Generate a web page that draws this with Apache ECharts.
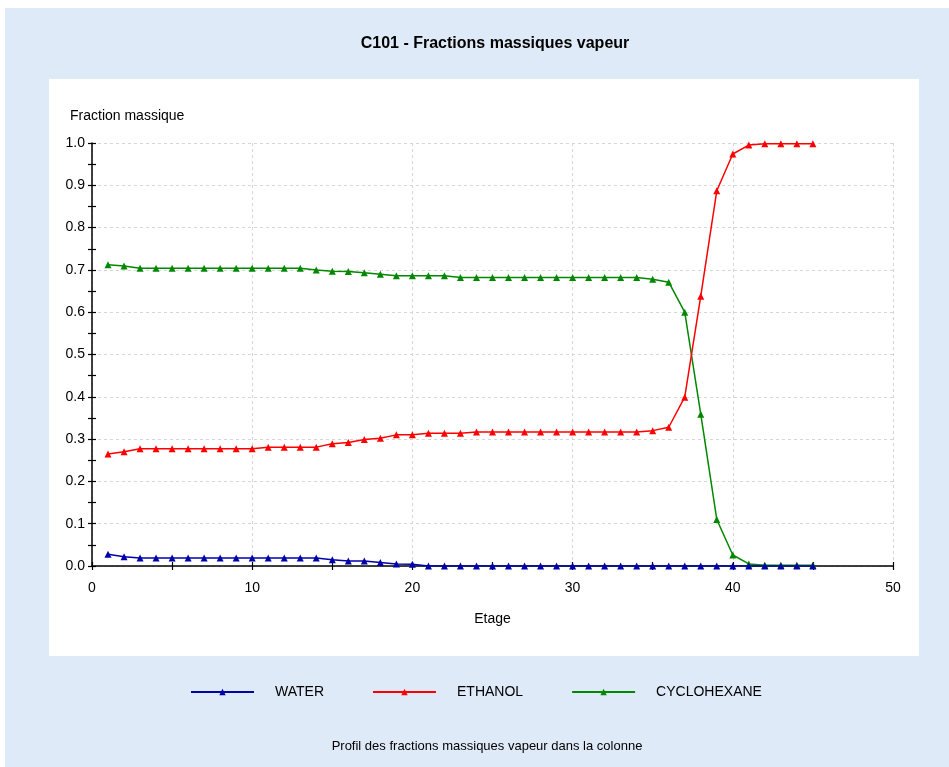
<!DOCTYPE html>
<html>
<head>
<meta charset="utf-8">
<script src="https://cdn.jsdelivr.net/npm/echarts@6/dist/echarts.min.js"></script>
<style>html,body{margin:0;padding:0;background:#fff;}#c{width:949px;height:767px;}</style>
</head>
<body>
<div id="c"></div>
<script>
const stages = [1,2,3,4,5,6,7,8,9,10,11,12,13,14,15,16,17,18,19,20,21,22,23,24,25,26,27,28,29,30,31,32,33,34,35,36,37,38,39,40,41,42,43,44,45];
const water = [0.028,0.022,0.019,0.019,0.019,0.019,0.019,0.019,0.019,0.019,0.019,0.019,0.019,0.019,0.015,0.012,0.012,0.008,0.005,0.004,
  0,0,0,0,0,0,0,0,0,0,0,0,0,0,0,0,0,0,0,0,0,0,0,0,0];
const ethanol = [0.265,0.270,0.277,0.277,0.277,0.277,0.277,0.277,0.277,0.277,0.281,0.281,0.281,0.281,0.289,0.292,0.299,0.302,0.310,0.310,
  0.314,0.314,0.314,0.317,0.317,0.317,0.317,0.317,0.317,0.317,0.317,0.317,0.317,0.317,0.320,0.328,0.399,0.638,0.887,0.974,0.995,0.998,0.998,0.998,0.998];
const cyclohexane = [0.712,0.709,0.704,0.704,0.704,0.704,0.704,0.704,0.704,0.704,0.704,0.704,0.704,0.700,0.697,0.696,0.693,0.690,0.686,0.686,
  0.686,0.686,0.682,0.682,0.682,0.682,0.682,0.682,0.682,0.682,0.682,0.682,0.682,0.682,0.678,0.671,0.600,0.359,0.110,0.026,0.005,0.002,0.002,0.002,0.002];
const seriesNames = ['WATER','ETHANOL','CYCLOHEXANE'];
const seriesColors = ['#0000aa','#ff0000','#008800'];
const titleText = 'C101 - Fractions massiques vapeur';
const subtitleText = 'Profil des fractions massiques vapeur dans la colonne';
const yName = 'Fraction massique';
const xName = 'Etage';

const FONT = 'Liberation Sans, Arial, sans-serif';
const chart = echarts.init(document.getElementById('c'), null, {renderer:'canvas'});
const pairs = arr => stages.map((s,i)=>[s, arr[i]]);
const dataArrs = [water, ethanol, cyclohexane];

const gridDef = {left:92, right:56, top:143, bottom:201, containLabel:false};
const tickStyle = {color:'#000', width:1.2};

const xBase = {type:'value', min:0, max:50, position:'bottom', axisLine:{show:false}, splitLine:{show:false}, axisLabel:{show:false}, axisPointer:{show:false}};
const yBase = {type:'value', min:0, max:1, position:'left', axisLine:{show:false}, splitLine:{show:false}, axisLabel:{show:false}};

chart.setOption({
  animation:false,
  backgroundColor:'#ffffff',
  graphic:[
    {type:'rect', z:-10, silent:true, shape:{x:5, y:8, width:944, height:759}, style:{fill:'#dfeaf8'}},
    {type:'rect', z:-9, silent:true, shape:{x:49, y:79, width:870, height:577}, style:{fill:'#ffffff'}},
    {type:'text', z:10, left:70, top:109, style:{text:yName, fill:'#000', font:'14px ' + FONT}},
    {type:'text', z:10, x:487, y:746, style:{text:subtitleText, fill:'#000', font:'13px ' + FONT, textAlign:'center', textVerticalAlign:'middle'}}
  ],
  title:{text:titleText, left:490, top:31, textAlign:'center',
    textStyle:{fontFamily:FONT, fontSize:16, fontWeight:'bold', color:'#000'}},
  legend:{
    left:185, top:680, itemWidth:63, itemHeight:8, itemGap:48,
    data:seriesNames,
    textStyle:{fontFamily:FONT, fontSize:14, color:'#000', padding:[0,0,0,16]}
  },
  grid:gridDef,
  xAxis:[
    Object.assign({}, xBase, {
      interval:10,
      axisLine:{show:true, lineStyle:{color:'#000', width:1.5}},
      axisTick:{show:false},
      axisLabel:{show:true, margin:15, color:'#000', fontFamily:FONT, fontSize:14},
      splitLine:{show:true, lineStyle:{color:'#d6d6d6', type:[3,3], width:1}},
      name:xName, nameLocation:'middle', nameGap:46,
      nameTextStyle:{fontFamily:FONT, fontSize:14, color:'#000'}
    }),
    Object.assign({}, xBase, {interval:5, axisTick:{show:true, inside:false, length:4, lineStyle:tickStyle}}),
    Object.assign({}, xBase, {interval:5, axisTick:{show:true, inside:true, length:4, lineStyle:tickStyle}})
  ],
  yAxis:[
    Object.assign({}, yBase, {
      interval:0.1,
      axisLine:{show:true, lineStyle:{color:'#000', width:1.5}},
      axisTick:{show:false},
      axisLabel:{show:true, margin:7, color:'#000', fontFamily:FONT, fontSize:14, formatter:v=>v.toFixed(1)},
      splitLine:{show:true, lineStyle:{color:'#d6d6d6', type:[3,3], width:1}}
    }),
    Object.assign({}, yBase, {interval:0.05, axisTick:{show:true, inside:false, length:4, lineStyle:tickStyle}}),
    Object.assign({}, yBase, {interval:0.05, axisTick:{show:true, inside:true, length:4, lineStyle:tickStyle}})
  ],
  series: seriesNames.map((n,i)=>({
    name:n, type:'line', xAxisIndex:0, yAxisIndex:0,
    data:pairs(dataArrs[i]),
    symbol:'triangle', symbolSize:7, showSymbol:true,
    itemStyle:{color:seriesColors[i]},
    lineStyle:{color:seriesColors[i], width:1.5},
    z:3-i+2
  }))
});
</script>
</body>
</html>
